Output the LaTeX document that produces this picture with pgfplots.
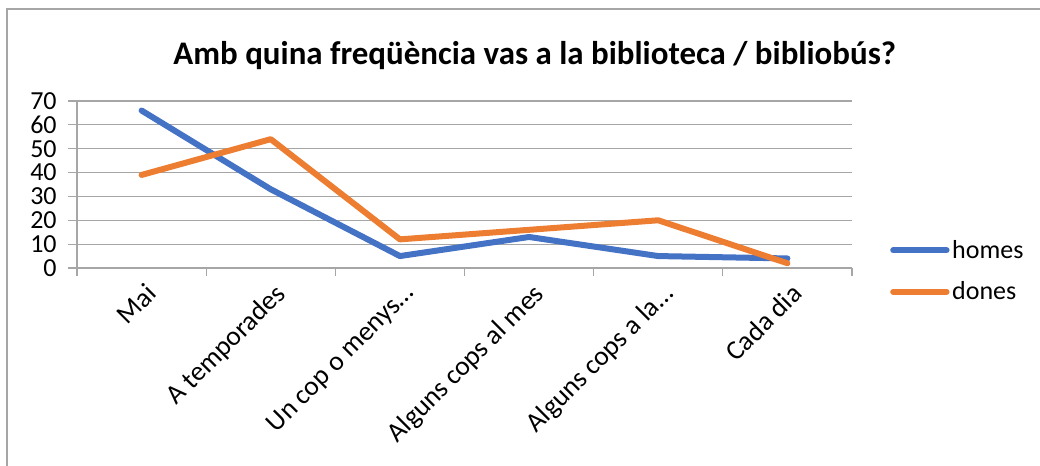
\documentclass[border=0pt]{standalone}
\usepackage{pgfplots}
\pgfplotsset{compat=1.18}
\usepackage{fontspec}
\setmainfont{Carlito}
\definecolor{cblue}{HTML}{4472C4}
\definecolor{corange}{HTML}{ED7D31}
\definecolor{cgrid}{HTML}{A6A6A6}
\begin{document}
\begin{tikzpicture}
\useasboundingbox (0,0) rectangle (780pt,349.5pt);
\draw[cgrid, line width=1.5pt] (5.25pt,0) -- (5.25pt,342.75pt) -- (781pt,342.75pt);
\node[font=\fontsize{24.7}{28}\selectfont\bfseries] at (401pt,308pt) {Amb quina freqüència vas a la biblioteca / bibliobús?};
\begin{axis}[
  at={(57.75pt,148.5pt)}, anchor=south west,
  scale only axis, width=581.25pt, height=125.25pt,
  xmin=-0.5, xmax=5.5, ymin=0, ymax=70,
  axis lines*=left,
  axis line style={draw=cgrid, line width=0.9pt, -},
  xtick={0,...,5},
  xticklabels={Mai, A temporades, Un cop o menys\dots, Alguns cops al mes, Alguns cops a la\dots, Cada dia},
  minor xtick={-0.5,0.5,...,5.5},
  ytick={0,10,...,70},
  tick align=outside,
  major tick length=6.75pt,
  minor tick length=6pt,
  major x tick style={draw=none},
  minor x tick style={draw=cgrid, line width=0.9pt},
  major y tick style={draw=cgrid, line width=0.9pt},
  ymajorgrids,
  major grid style={draw=cgrid, line width=0.9pt},
  x tick label style={rotate=45, anchor=north east, font=\fontsize{20.5}{23}\selectfont, inner sep=1pt, xshift=0pt, yshift=-3pt},
  y tick label style={font=\fontsize{19.5}{22}\selectfont, anchor=east},
  yticklabel shift=5pt,
  /pgf/number format/assume math mode=true,
  legend style={at={(1.049,-0.018)}, anchor=west, draw=none, fill=none,
    font=\fontsize{19.5}{22}\selectfont, row sep=12pt, inner sep=0pt},
  legend cell align=left,
  legend image code/.code={\draw[#1] (0pt,0pt) -- (40pt,0pt);},
]
\addplot[cblue, line width=4.5pt, line join=round, line cap=round] coordinates {(0,66) (1,33) (2,5) (3,13) (4,5) (5,4)};
\addlegendentry{homes}
\addplot[corange, line width=4.5pt, line join=round, line cap=round] coordinates {(0,39) (1,54) (2,12) (3,16) (4,20) (5,2)};
\addlegendentry{dones}
\end{axis}
\end{tikzpicture}
\end{document}
